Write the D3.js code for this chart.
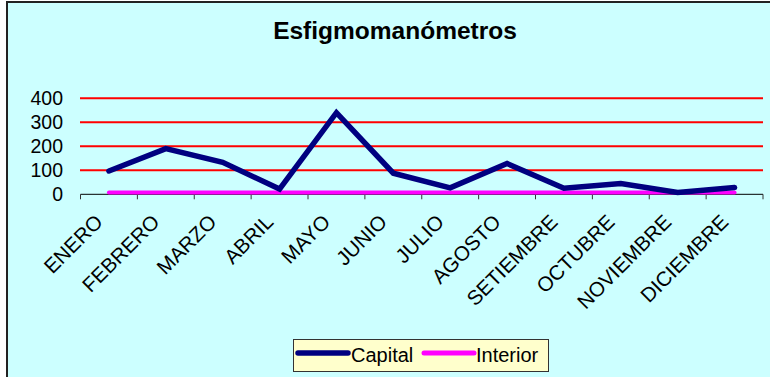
<!DOCTYPE html>
<html>
<head>
<meta charset="utf-8">
<script src="https://cdn.jsdelivr.net/npm/d3@7"></script>
<style>
  body{margin:0;background:#fff;}
  svg{display:block;font-family:"Liberation Sans",Arial,sans-serif;}
</style>
</head>
<body>
<svg id="chart" width="770" height="377"></svg>
<script>
// data
var months=["ENERO","FEBRERO","MARZO","ABRIL","MAYO","JUNIO","JULIO","AGOSTO","SETIEMBRE","OCTUBRE","NOVIEMBRE","DICIEMBRE"];
var capital=[97,190,133,22,340,88,27,128,25,45,8,28];
var interior=[8,8,8,8,8,8,8,8,8,8,8,8];
var yTicks=[0,100,200,300,400];
var seriesNames=["Capital","Interior"];
var seriesColors=["#000080","#FF00FF"];

var svg=d3.select("#chart");

// chart area background with the dark border on top and left
svg.append("rect").attr("x",7).attr("y",2).attr("width",770).attr("height",380)
  .attr("fill","#CCFFFF").attr("stroke","#222").attr("stroke-width",2);

svg.append("text").attr("x",395).attr("y",39).attr("text-anchor","middle")
  .attr("font-weight","bold").attr("font-size",24.5).text("Esfigmomanómetros");

var x=d3.scaleBand().domain(months).range([80.5,763]);
var y=d3.scaleLinear().domain([0,400]).range([194.3,98.3]);

// red gridlines
svg.append("g").selectAll("line").data(yTicks.filter(function(d){return d>0;})).enter().append("line")
  .attr("x1",80).attr("x2",763).attr("y1",function(d){return y(d);}).attr("y2",function(d){return y(d);})
  .attr("stroke","#FF0000").attr("stroke-width",2);

// y labels
svg.append("g").selectAll("text").data(yTicks).enter().append("text")
  .attr("x",63).attr("y",function(d){return y(d);}).attr("dy","0.36em")
  .attr("text-anchor","end").attr("font-size",19.5).attr("fill","#000").text(function(d){return d;});

// x axis with ticks at band edges
var ax=svg.append("g").attr("transform","translate(0,"+y(0)+")");
ax.append("line").attr("x1",x.range()[0]).attr("x2",x.range()[1]).attr("stroke","#000").attr("stroke-width",1);
var edges=months.map(function(m){return x(m);}).concat([x.range()[1]]);
ax.selectAll(".tk").data(edges).enter().append("line").attr("class","tk")
  .attr("x1",function(d){return d;}).attr("x2",function(d){return d;}).attr("y1",0).attr("y2",5)
  .attr("stroke","#333").attr("stroke-width",1);

svg.append("g").selectAll("text").data(months).enter().append("text")
  .attr("transform",function(d){return "translate("+(x(d)+x.bandwidth()/2-5)+","+(y(0)+29)+") rotate(-45)";})
  .attr("text-anchor","end").attr("font-size",20.5).attr("fill","#000").text(function(d){return d;});

var line=d3.line().x(function(d,i){return x(months[i])+x.bandwidth()/2;}).y(function(d){return y(d);});

svg.append("path").datum(interior).attr("d",line).attr("fill","none")
  .attr("stroke",seriesColors[1]).attr("stroke-width",4).attr("stroke-linecap","round").attr("stroke-linejoin","round");
svg.append("path").datum(capital).attr("d",line).attr("fill","none")
  .attr("stroke",seriesColors[0]).attr("stroke-width",5.5).attr("stroke-linecap","round").attr("stroke-linejoin","miter");

// legend
var lg=svg.append("g");
lg.append("rect").attr("x",293.5).attr("y",339.5).attr("width",255).attr("height",32)
  .attr("fill","#FFFFCC").attr("stroke","#333").attr("stroke-width",1);
var lx=[[298,348,351],[424,474,476]];
seriesNames.forEach(function(n,i){
  lg.append("line").attr("x1",lx[i][0]).attr("x2",lx[i][1]).attr("y1",353).attr("y2",353)
    .attr("stroke",seriesColors[i]).attr("stroke-width",i==0?5.5:5).attr("stroke-linecap","round");
  lg.append("text").attr("x",lx[i][2]).attr("y",362).attr("font-size",20).attr("fill","#000").text(n);
});
</script>
</body>
</html>
